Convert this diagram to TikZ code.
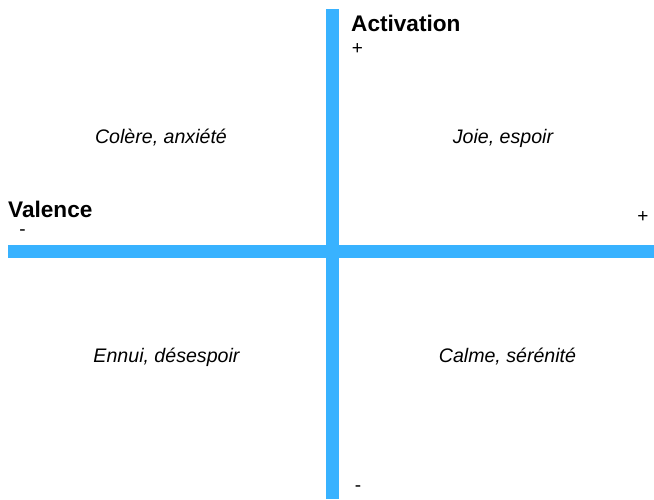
\documentclass[tikz,border=0pt]{standalone}
\usepackage{fontspec}
\setmainfont{Liberation Sans}
\definecolor{axisblue}{RGB}{56,178,255}
\begin{document}
\begin{tikzpicture}[x=1pt,y=-1pt,
  axisbar/.style={fill=axisblue,draw=none},
  axistitle/.style={font=\fontsize{22.6}{26}\selectfont\bfseries,anchor=base west,inner sep=0pt},
  sign/.style={font=\fontsize{19}{22}\selectfont,inner sep=0pt},
  quad/.style={font=\fontsize{19.6}{23}\selectfont\itshape,anchor=base,inner sep=0pt}]
\useasboundingbox (0,0) rectangle (654,499);
\fill[white] (0,0) rectangle (654,499);
% axes
\fill[axisbar] (326,9) rectangle (339,499);
\fill[axisbar] (8,245) rectangle (654,258);
% axis titles
\node[axistitle] (act) at (351,31) {Activation};
\node[axistitle] (val) at (8,217) {Valence};
% signs
\node[sign] (aplus) at (357.5,49) {+};
\node[sign] (vminus) at (22.5,232.5) {-};
\node[sign] (vplus) at (643,217) {+};
\node[sign] (aminus) at (358,489) {-};
% quadrants
\node[quad] (q1) at (161,143) {Colère, anxiété};
\node[quad] (q2) at (503,143) {Joie, espoir};
\node[quad] (q3) at (166.5,362) {Ennui, désespoir};
\node[quad] (q4) at (507.5,362) {Calme, sérénité};
\end{tikzpicture}
\end{document}
